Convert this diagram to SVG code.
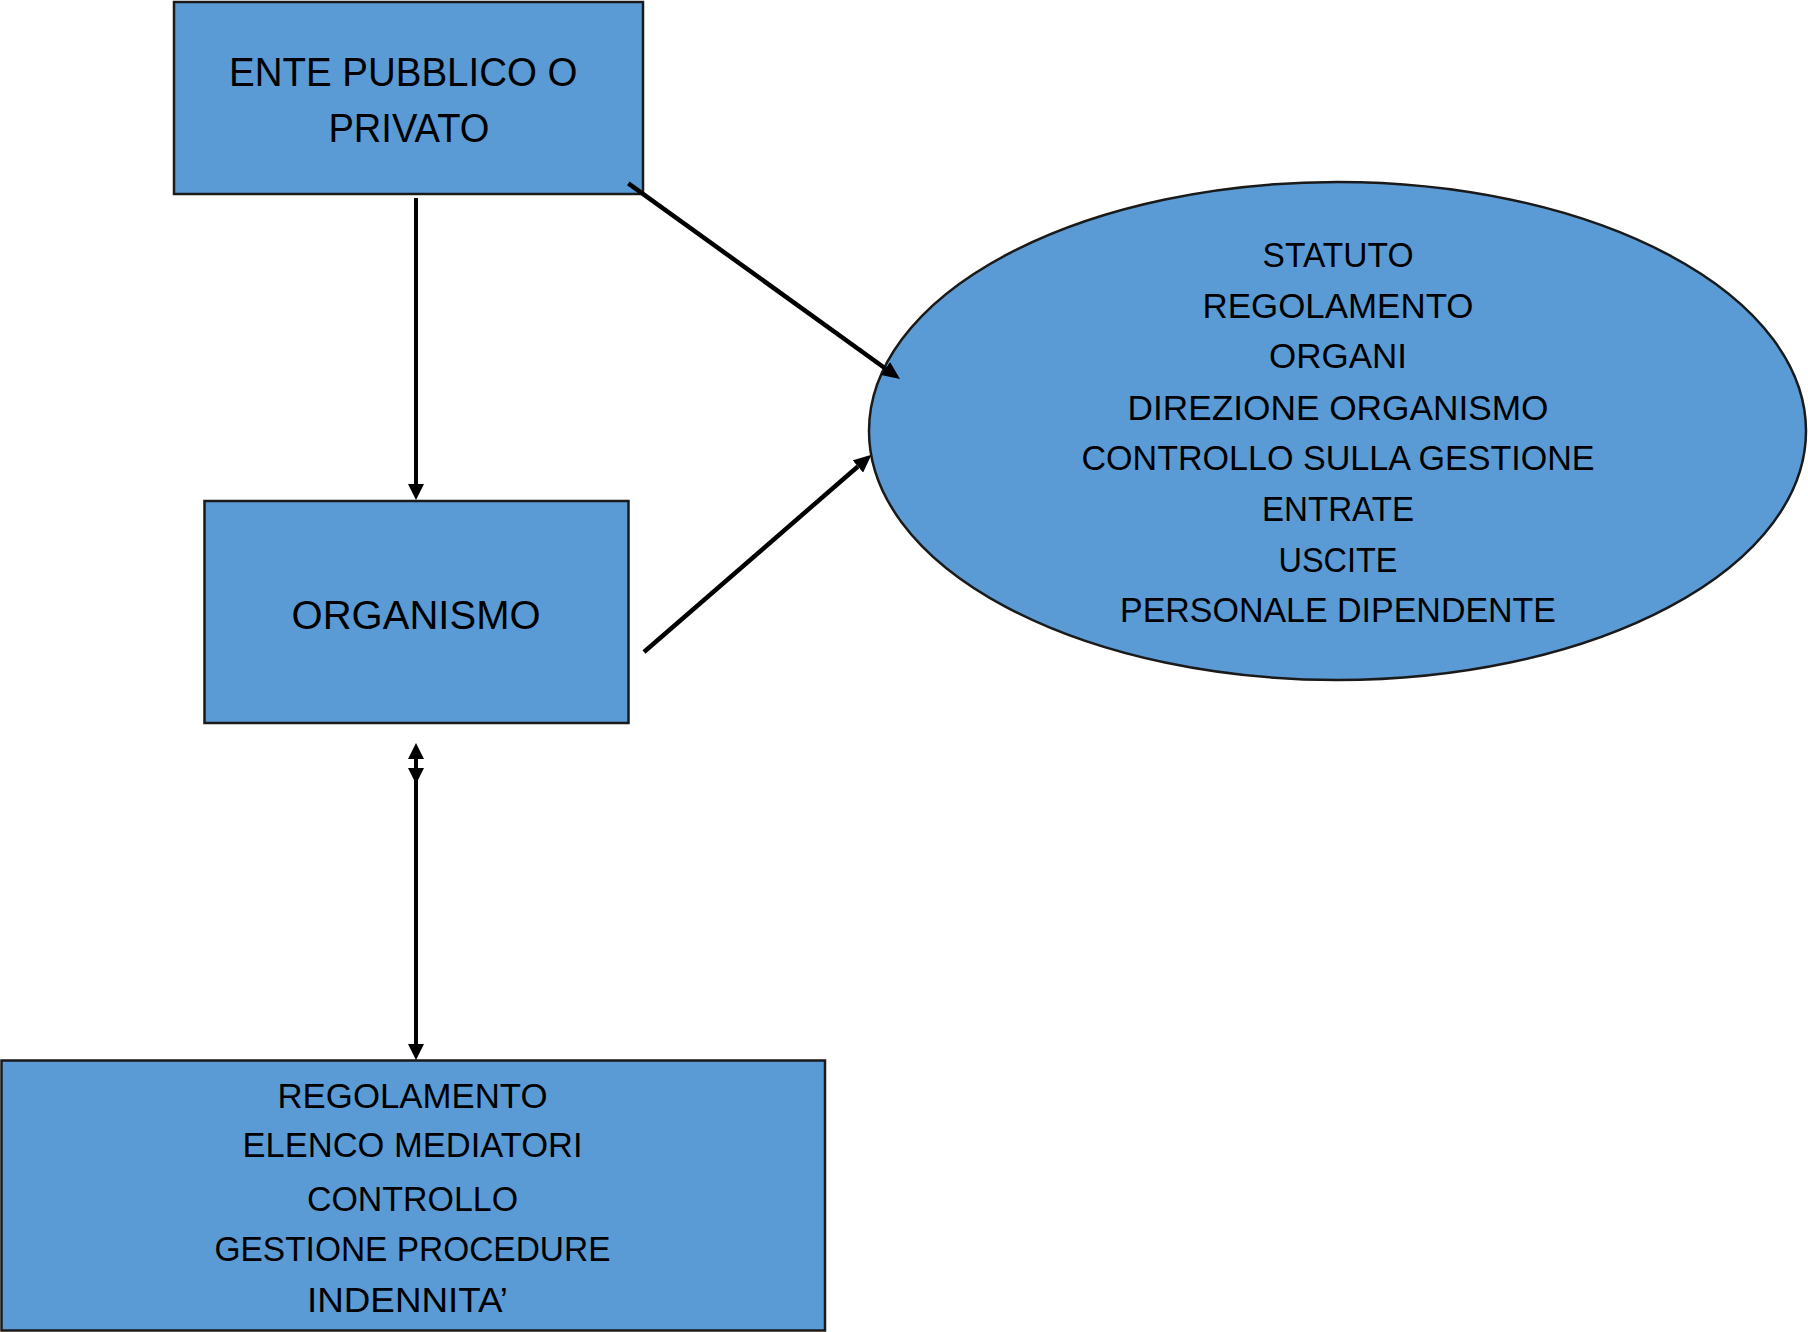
<svg xmlns="http://www.w3.org/2000/svg" width="1808" height="1332" viewBox="0 0 1808 1332">
  <style>
    .node { fill: #5B9BD5; stroke: #1a1a1a; stroke-width: 2.5; }
    .lbl { font-family: "Liberation Sans", Arial, sans-serif; fill: #000; }
    .big { font-size: 40px; }
    .mid { font-size: 35.5px; }
    .conn { stroke: #000; stroke-width: 4.5; fill: none; }
  </style>
  <defs>
    <marker id="ah" viewBox="0 0 16 16" markerWidth="16" markerHeight="16" markerUnits="userSpaceOnUse" refX="0" refY="8" orient="auto-start-reverse">
      <path d="M0,0 L16,8 L0,16 z" fill="#000"/>
    </marker>
    <marker id="ahl" viewBox="0 0 18 16" markerWidth="18" markerHeight="16" markerUnits="userSpaceOnUse" refX="0" refY="8" orient="auto">
      <path d="M0,0 L18,8 L0,16 z" fill="#000"/>
    </marker>
  </defs>
  <rect width="1808" height="1332" fill="#fff"/>

  <g id="ente">
    <rect class="node" x="174" y="2" width="469" height="192"/>
    <text class="lbl big" x="229" y="86" textLength="348.5" lengthAdjust="spacingAndGlyphs">ENTE PUBBLICO O</text>
    <text class="lbl big" x="328.4" y="141.7" textLength="161" lengthAdjust="spacingAndGlyphs">PRIVATO</text>
  </g>

  <g id="organismo">
    <rect class="node" x="204.5" y="501" width="424" height="222"/>
    <text class="lbl big" x="291.6" y="628.5" textLength="249" lengthAdjust="spacingAndGlyphs" style="font-size:41px">ORGANISMO</text>
  </g>

  <g id="statuto">
    <ellipse class="node" cx="1337.5" cy="431" rx="468.5" ry="249"/>
    <g class="lbl mid" text-anchor="middle">
      <text x="1338" y="266.8" textLength="151" lengthAdjust="spacingAndGlyphs">STATUTO</text>
      <text x="1338" y="317.6" textLength="271" lengthAdjust="spacingAndGlyphs">REGOLAMENTO</text>
      <text x="1338" y="367.7" textLength="138" lengthAdjust="spacingAndGlyphs">ORGANI</text>
      <text x="1338" y="420.4" textLength="421" lengthAdjust="spacingAndGlyphs">DIREZIONE ORGANISMO</text>
      <text x="1338" y="470.2" textLength="513" lengthAdjust="spacingAndGlyphs">CONTROLLO SULLA GESTIONE</text>
      <text x="1338" y="521" textLength="152" lengthAdjust="spacingAndGlyphs">ENTRATE</text>
      <text x="1338" y="572" textLength="119" lengthAdjust="spacingAndGlyphs">USCITE</text>
      <text x="1338" y="621.7" textLength="436" lengthAdjust="spacingAndGlyphs">PERSONALE DIPENDENTE</text>
    </g>
  </g>

  <g id="regolamento">
    <rect class="node" x="1.5" y="1060.5" width="823.5" height="270"/>
    <g class="lbl mid" text-anchor="middle">
      <text x="412.5" y="1107.7" textLength="270" lengthAdjust="spacingAndGlyphs">REGOLAMENTO</text>
      <text x="412.5" y="1157.3" textLength="340" lengthAdjust="spacingAndGlyphs">ELENCO MEDIATORI</text>
      <text x="412.5" y="1211" textLength="211" lengthAdjust="spacingAndGlyphs">CONTROLLO</text>
      <text x="412.5" y="1261" textLength="396" lengthAdjust="spacingAndGlyphs">GESTIONE PROCEDURE</text>
    </g>
    <text class="lbl mid" x="307" y="1311.7" textLength="201" lengthAdjust="spacingAndGlyphs">INDENNITA’</text>
  </g>

  <g id="connectors">
    <line class="conn" x1="416" y1="198" x2="416" y2="484" style="stroke-width:4" marker-end="url(#ah)"/>
    <line class="conn" x1="628.3" y1="183.3" x2="885.4" y2="368.5" marker-end="url(#ahl)"/>
    <line class="conn" x1="644" y1="652" x2="857.9" y2="466.5" marker-end="url(#ahl)"/>
    <line class="conn" x1="416" y1="759" x2="416" y2="768" style="stroke-width:4" marker-start="url(#ah)" marker-end="url(#ah)"/>
    <line class="conn" x1="416" y1="780" x2="416" y2="1044" style="stroke-width:4" marker-end="url(#ah)"/>
  </g>
</svg>
